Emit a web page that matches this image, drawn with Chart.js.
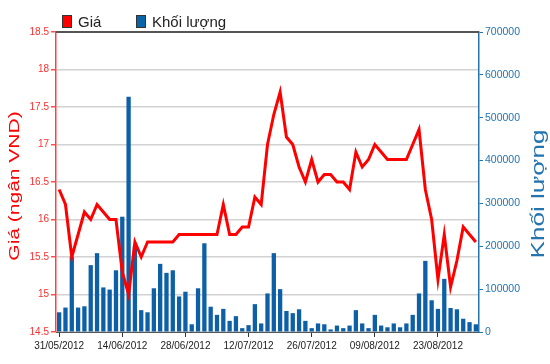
<!DOCTYPE html>
<html>
<head>
<meta charset="utf-8">
<script src="https://cdn.jsdelivr.net/npm/chart.js@4/dist/chart.umd.min.js"></script>
<style>
  html, body { margin:0; padding:0; background:#fff; }
  #wrap { width:550px; height:364px; }
</style>
</head>
<body>
<div id="wrap"><canvas id="c"></canvas></div>
<script>
// trading days (categories)
const dates = [
  "31/05/2012","01/06/2012","04/06/2012","05/06/2012","06/06/2012","07/06/2012","08/06/2012",
  "11/06/2012","12/06/2012","13/06/2012","14/06/2012","15/06/2012","18/06/2012","19/06/2012",
  "20/06/2012","21/06/2012","22/06/2012","25/06/2012","26/06/2012","27/06/2012","28/06/2012",
  "29/06/2012","02/07/2012","03/07/2012","04/07/2012","05/07/2012","06/07/2012","09/07/2012",
  "10/07/2012","11/07/2012","12/07/2012","13/07/2012","16/07/2012","17/07/2012","18/07/2012",
  "19/07/2012","20/07/2012","23/07/2012","24/07/2012","25/07/2012","26/07/2012","27/07/2012",
  "30/07/2012","31/07/2012","01/08/2012","02/08/2012","03/08/2012","06/08/2012","07/08/2012",
  "08/08/2012","09/08/2012","10/08/2012","13/08/2012","14/08/2012","15/08/2012","16/08/2012",
  "17/08/2012","20/08/2012","21/08/2012","22/08/2012","23/08/2012","24/08/2012","27/08/2012",
  "28/08/2012","29/08/2012","30/08/2012","31/08/2012"
];

// Giá (ngàn VND)
const price = [
  16.4, 16.2, 15.5, 15.8, 16.1, 16.0, 16.2, 16.1, 16.0, 16.0,
  15.3, 15.0, 15.7, 15.5, 15.7, 15.7, 15.7, 15.7, 15.7, 15.8,
  15.8, 15.8, 15.8, 15.8, 15.8, 15.8, 16.2, 15.8, 15.8, 15.9,
  15.9, 16.3, 16.2, 17.0, 17.4, 17.7, 17.1, 17.0, 16.7, 16.5,
  16.8, 16.5, 16.6, 16.6, 16.5, 16.5, 16.4, 16.9, 16.7, 16.8,
  17.0, 16.9, 16.8, 16.8, 16.8, 16.8, 17.0, 17.2, 16.4, 16.0,
  15.2, 15.8, 15.1, 15.45, 15.9, 15.8, 15.7
];

// Khối lượng
const volume = [
  46000, 57000, 176000, 57000, 60000, 156000, 184000, 104000, 99000, 144000,
  269000, 549000, 200000, 51000, 46000, 102000, 159000, 138000, 144000, 83000,
  94000, 18000, 102000, 207000, 59000, 40000, 54000, 26000, 37000, 9000,
  16000, 65000, 20000, 90000, 184000, 100000, 49000, 44000, 53000, 26000,
  9000, 20000, 18000, 6000, 15000, 9000, 15000, 51000, 20000, 9000,
  40000, 15000, 11000, 20000, 11000, 20000, 40000, 90000, 166000, 74000,
  54000, 124000, 56000, 53000, 31000, 23000, 18000
];

const labelEvery = 10;
const priceTitle = "Giá (ngân VND)";
const volumeTitle = "Khối lượng";

const RED = "#ff0000";
const BLUE = "#0d5fa6";
const AXIS_BLUE = "#2474b0";
const FONT = "Arial, 'Liberation Sans', sans-serif";

// legend, top border and the two stretched axis titles
const decor = {
  id: "decor",
  afterDraw(chart) {
    const ctx = chart.ctx;
    const a = chart.chartArea;
    ctx.save();

    // top frame line
    ctx.strokeStyle = "#555";
    ctx.lineWidth = 2;
    ctx.beginPath();
    ctx.moveTo(a.left, a.top);
    ctx.lineTo(a.right, a.top);
    ctx.stroke();

    // legend
    ctx.font = "15px " + FONT;
    ctx.textBaseline = "alphabetic";
    let x = 62;
    chart.data.datasets.forEach(ds => {
      ctx.fillStyle = ds.legendColor;
      ctx.fillRect(x, 15, 10, 13);
      ctx.strokeStyle = "#333";
      ctx.lineWidth = 1;
      ctx.strokeRect(x + 0.5, 15.5, 9, 12);
      ctx.fillStyle = "#222";
      ctx.fillText(ds.label, x + 16, 27);
      x += 74;
    });

    // left title
    ctx.save();
    ctx.translate(15.5, 186);
    ctx.rotate(-Math.PI / 2);
    ctx.scale(1.5, 1);
    ctx.font = "14px " + FONT;
    ctx.fillStyle = RED;
    ctx.textAlign = "center";
    ctx.textBaseline = "middle";
    ctx.fillText(priceTitle, 0, 0);
    ctx.restore();

    // right title
    ctx.save();
    ctx.translate(539, 194);
    ctx.rotate(-Math.PI / 2);
    ctx.scale(1.45, 1);
    ctx.font = "18px " + FONT;
    ctx.fillStyle = AXIS_BLUE;
    ctx.textAlign = "center";
    ctx.textBaseline = "middle";
    ctx.fillText(volumeTitle, 0, 0);
    ctx.restore();

    ctx.restore();
  }
};

new Chart(document.getElementById("c"), {
  type: "bar",
  data: {
    labels: dates,
    datasets: [
      {
        type: "line",
        label: "Giá",
        data: price,
        yAxisID: "y",
        borderColor: RED,
        backgroundColor: RED,
        legendColor: RED,
        borderWidth: 3,
        pointRadius: 0,
        tension: 0,
        order: 0
      },
      {
        type: "bar",
        label: "Khối lượng",
        data: volume,
        yAxisID: "y1",
        backgroundColor: BLUE,
        legendColor: "#0a64a8",
        barPercentage: 0.68,
        categoryPercentage: 1,
        order: 1
      }
    ]
  },
  options: {
    responsive: true,
    maintainAspectRatio: false,
    animation: false,
    layout: { padding: { top: 32, left: 0, right: 0, bottom: 0 } },
    plugins: {
      legend: { display: false },
      tooltip: { enabled: false }
    },
    scales: {
      x: {
        offset: true,
        afterFit: s => { s.height = 32; },
        grid: {
          offset: false,
          drawOnChartArea: false,
          drawTicks: true,
          tickLength: 5,
          tickColor: "#333"
        },
        border: { color: "#555", width: 1 },
        ticks: {
          autoSkip: false,
          maxRotation: 0,
          padding: 3,
          color: "#222",
          font: { family: FONT, size: 10 },
          callback: (v, i) => (i % labelEvery === 0 ? dates[i] : null)
        }
      },
      y: {
        position: "left",
        min: 14.5,
        max: 18.5,
        afterFit: s => { s.width = 56; },
        ticks: {
          stepSize: 0.5,
          padding: 2,
          color: "#ff3030",
          font: { family: FONT, size: 10 },
          callback: v => String(v)
        },
        grid: {
          color: "#d2d2d2",
          lineWidth: 1.5,
          tickColor: "#ff5050",
          tickLength: 5
        },
        border: { color: "#ff4040", width: 1.5 }
      },
      y1: {
        position: "right",
        min: 0,
        max: 700000,
        afterFit: s => { s.width = 71; },
        ticks: {
          stepSize: 100000,
          padding: 2,
          color: AXIS_BLUE,
          font: { family: FONT, size: 10.5 },
          callback: v => String(v)
        },
        grid: {
          drawOnChartArea: false,
          tickColor: AXIS_BLUE,
          tickLength: 4
        },
        border: { color: AXIS_BLUE, width: 1.5 }
      }
    }
  },
  plugins: [decor]
});
</script>
</body>
</html>
